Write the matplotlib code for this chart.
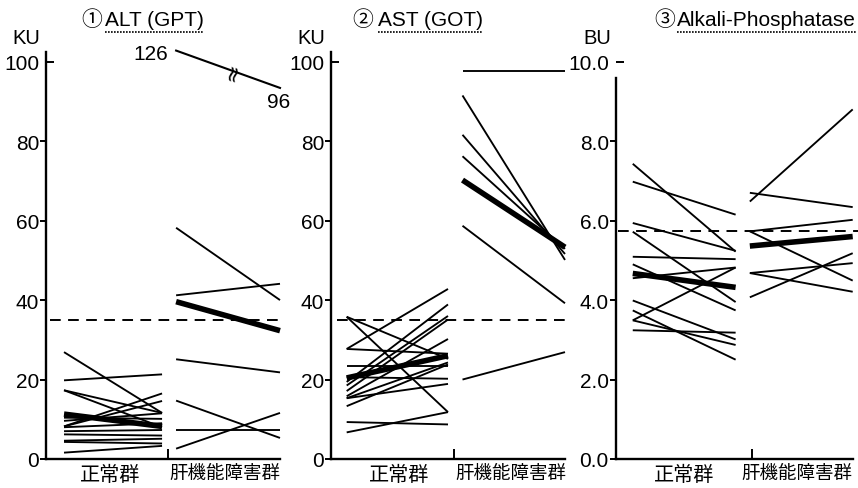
import matplotlib
matplotlib.use('Agg')
import matplotlib.pyplot as plt
import matplotlib.lines as mlines
import numpy as np

plt.rcParams['font.family'] = ['Liberation Sans', 'Noto Sans CJK JP']

groups = ['正常群', '肝機能障害群']

# ALT (GPT), KU
alt_normal_before = [26.9, 19.8, 17.3, 17.3, 10.4, 9.6, 8.2, 8.2, 8.0, 7.0, 6.2, 4.6, 4.3, 1.6]
alt_normal_after = [11.6, 21.3, 11.6, 8.0, 10.1, 11.5, 16.5, 14.6, 9.0, 7.3, 5.9, 5.1, 3.9, 3.3]
alt_normal_mean = [11.3, 8.2]
alt_liver_before = [58.2, 41.2, 25.1, 14.7, 7.2, 2.6]
alt_liver_after = [40.0, 44.1, 21.8, 5.3, 7.2, 11.6]
alt_liver_mean = [39.6, 32.3]
alt_outlier_pos = [102.8, 93.4]
alt_outlier_labels = ['126', '96']
alt_limit = 35

# AST (GOT), KU
ast_normal_before = [35.8, 35.8, 27.7, 27.7, 23.4, 20.6, 19.4, 18.5, 17.1, 15.8, 15.3, 15.3, 13.3, 9.3, 6.7]
ast_normal_after = [11.8, 25.2, 42.8, 26.5, 23.4, 20.2, 38.9, 36.0, 35.1, 30.2, 18.9, 24.3, 23.8, 8.7, 11.8]
ast_normal_mean = [20.4, 26.0]
ast_liver_before = [97.7, 91.5, 81.6, 76.2, 58.7, 20.0]
ast_liver_after = [97.7, 50.1, 51.6, 52.9, 39.2, 26.9]
ast_liver_mean = [70.2, 53.3]
ast_limit = 35

# Alkali-Phosphatase, BU
alp_normal_before = [7.43, 6.98, 5.94, 5.72, 5.09, 4.90, 4.55, 3.99, 3.74, 3.49, 3.49, 3.24]
alp_normal_after = [5.22, 6.15, 5.24, 3.95, 5.03, 3.74, 4.82, 3.01, 2.50, 4.82, 2.87, 3.18]
alp_normal_mean = [4.67, 4.32]
alp_liver_before = [6.48, 6.70, 5.73, 5.73, 4.68, 4.68, 4.07]
alp_liver_after = [8.80, 6.34, 6.02, 4.49, 4.93, 4.21, 5.18]
alp_liver_mean = [5.36, 5.60]
alp_limit = 5.75

W, H = 858, 489
fig = plt.figure(figsize=(W / 100, H / 100), dpi=100)


def make_axes(x0, x1):
    return fig.add_axes([x0 / W, 29 / H, (x1 - x0) / W, 413.2 / H])


def setup(ax, top, ticks, labels, spine_top, xl, xr, mid, label_x):
    ax.set_xlim(0, 1)
    ax.set_ylim(0, top)
    ax.spines['top'].set_visible(False)
    ax.spines['right'].set_visible(False)
    ax.spines['left'].set_bounds(0, spine_top)
    ax.spines['left'].set_linewidth(1.7)
    ax.spines['bottom'].set_linewidth(1.7)
    ax.set_yticks(ticks[:-1])
    ax.set_yticklabels(labels[:-1])
    ax.set_yticks([ticks[-1]], minor=True)
    ax.set_yticklabels([labels[-1]], minor=True)
    ax.tick_params(axis='y', which='major', direction='out', length=4, width=1.4, pad=1, labelsize=15)
    ax.tick_params(axis='y', which='minor', direction='in', length=6, width=1.4, pad=5, labelsize=15)
    ax.set_xticks(label_x)
    ax.set_xticklabels(groups)
    ax.set_xticks([mid], minor=True)
    ax.tick_params(axis='x', which='major', length=0, pad=4, labelsize=14.5)
    ax.tick_params(axis='x', which='minor', direction='in', length=7, width=1.4)
    ax.get_xticklabels()[1].set_fontsize(13.3)


def draw_group(ax, xs, before, after, mean):
    for b, a in zip(before, after):
        ax.plot(xs, [b, a], color='black', lw=1.35, clip_on=False, solid_capstyle='butt')
    ax.plot(xs, mean, color='black', lw=4.0, clip_on=False, solid_capstyle='butt')


ax1 = make_axes(46, 280)
ax2 = make_axes(331, 565)
ax3 = make_axes(615.7, 852.7)

dash = (0, (5.5, 3.8))

# ALT
xl1, xr1 = [0.077, 0.496], [0.556, 1.0]
setup(ax1, 104, [0, 20, 40, 60, 80, 100], ['0', '20', '40', '60', '80', '100'], 102.5, xl1, xr1, 0.521,
      [0.274, 0.765])
draw_group(ax1, xl1, alt_normal_before, alt_normal_after, alt_normal_mean)
draw_group(ax1, xr1, alt_liver_before, alt_liver_after, alt_liver_mean)
ax1.plot(xr1, alt_outlier_pos, color='black', lw=1.5, clip_on=False)
ax1.plot([0.017, 1.0], [alt_limit, alt_limit], color='black', lw=1.4, ls=dash, clip_on=False)
ax1.annotate(alt_outlier_labels[0], xy=(xr1[0], alt_outlier_pos[0]), xytext=(-6, -2.4),
             textcoords='offset points', ha='right', va='center', fontsize=15, annotation_clip=False)
ax1.annotate(alt_outlier_labels[1], xy=(xr1[1], alt_outlier_pos[1]), xytext=(-0.7, -10),
             textcoords='offset points', ha='center', va='center', fontsize=15, annotation_clip=False)
bx = 0.8
by = np.interp(bx, xr1, alt_outlier_pos)
ax1.text(bx, by, '≈', rotation=75, ha='center', va='center', fontsize=16, family='DejaVu Sans',
         clip_on=False)

# AST
xl2, xr2 = [0.067, 0.5], [0.562, 1.0]
setup(ax2, 104, [0, 20, 40, 60, 80, 100], ['0', '20', '40', '60', '80', '100'], 102.5, xl2, xr2, 0.526,
      [0.29, 0.77])
draw_group(ax2, xl2, ast_normal_before, ast_normal_after, ast_normal_mean)
draw_group(ax2, xr2, ast_liver_before, ast_liver_after, ast_liver_mean)
ax2.plot([0.024, 1.013], [ast_limit, ast_limit], color='black', lw=1.4, ls=dash, clip_on=False)

# ALP
xl3, xr3 = [0.072, 0.506], [0.566, 1.0]
setup(ax3, 10.4, [0, 2, 4, 6, 8, 10], ['0.0', '2.0', '4.0', '6.0', '8.0', '10.0'], 9.6, xl3, xr3, 0.576,
      [0.29, 0.765])
draw_group(ax3, xl3, alp_normal_before, alp_normal_after, alp_normal_mean)
draw_group(ax3, xr3, alp_liver_before, alp_liver_after, alp_liver_mean)
ax3.plot([0.01, 1.025], [alp_limit, alp_limit], color='black', lw=1.4, ls=dash, clip_on=False)

# titles and units
titles = [('①', 'ALT (GPT)', 81, 105), ('②', 'AST (GOT)', 352, 378), ('③', 'Alkali-Phosphatase', 654, 677)]
name_texts = []
for num, name, xn, xt in titles:
    fig.text(xn / W, 1 - 20 / H, num, ha='left', va='center', fontsize=15)
    name_texts.append(fig.text(xt / W, 1 - 20 / H, name, ha='left', va='center', fontsize=15))

for unit, xu in [('KU', 12), ('KU', 297), ('BU', 583)]:
    fig.text(xu / W, 1 - 38 / H, unit, ha='left', va='center', fontsize=14.5)

fig.canvas.draw()
renderer = fig.canvas.get_renderer()
for t in name_texts:
    bb = t.get_window_extent(renderer)
    fig.add_artist(mlines.Line2D([bb.x0 / W, bb.x1 / W], [1 - 33 / H] * 2, transform=fig.transFigure,
                                 color='black', lw=1.2, ls=(0, (1, 0.8))))

fig.savefig('out.png', dpi=100)
